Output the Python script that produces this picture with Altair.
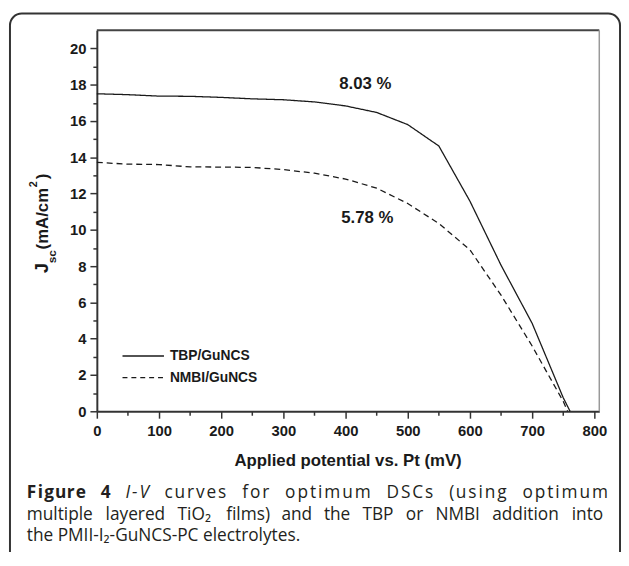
import altair as alt
import pandas as pd

# ---- data ----
voltage_tbp = [0, 50, 100, 150, 200, 250, 300, 350, 400, 450, 500, 550, 600, 650, 700, 750, 761]
jsc_tbp = [17.5, 17.45, 17.37, 17.36, 17.3, 17.22, 17.17, 17.05, 16.83, 16.47, 15.8, 14.62, 11.58, 8.05, 4.85, 0.75, 0.0]
voltage_nmbi = [0, 50, 100, 150, 200, 250, 300, 350, 400, 450, 500, 550, 600, 650, 700, 750, 757]
jsc_nmbi = [13.72, 13.62, 13.6, 13.47, 13.46, 13.44, 13.32, 13.12, 12.8, 12.3, 11.45, 10.35, 8.9, 6.4, 3.6, 0.55, 0.0]
series_names = ["TBP/GuNCS", "NMBI/GuNCS"]
efficiency_labels = ["8.03 %", "5.78 %"]
x_tick_values = list(range(0, 801, 50))
y_tick_values = list(range(0, 21, 1))

df = pd.concat([
    pd.DataFrame({"V": voltage_tbp, "J": jsc_tbp, "series": series_names[0]}),
    pd.DataFrame({"V": voltage_nmbi, "J": jsc_nmbi, "series": series_names[1]}),
], ignore_index=True)

W, H = 509, 386
OX, OY = 98, 27  # page position of plot origin
AX_FONT = "Liberation Sans"
CAP_FONT = "Open Sans"
INK = "#1a1a1a"


def txt(s, x, y, size, font=AX_FONT, weight="bold", align="left", baseline="alphabetic",
        angle=0, style="normal", color=INK):
    return alt.Chart(alt.Data(values=[{}])).mark_text(
        text=s, font=font, fontSize=size, fontWeight=weight, fontStyle=style,
        align=align, baseline=baseline, angle=angle, color=color,
    ).encode(x=alt.value(x), y=alt.value(y))


major_x = "datum.value % 100 === 0"
major_y = "datum.value % 2 === 0"

x_axis = alt.Axis(
    values=x_tick_values, title=None, grid=False,
    labelExpr=f"{major_x} ? datum.label : ''",
    tickSize={"condition": {"test": major_x, "value": 7}, "value": 4},
    labelFont=AX_FONT, labelFontSize=15, labelFontWeight="bold", labelColor=INK,
    labelPadding=6, domainColor="#333", domainWidth=2, tickColor="#333", tickWidth=1.5,
    labelFlush=False,
)
y_axis = alt.Axis(
    values=y_tick_values, title=None, grid=False,
    labelExpr=f"{major_y} ? datum.label : ''",
    tickSize={"condition": {"test": major_y, "value": 7}, "value": 4},
    labelFont=AX_FONT, labelFontSize=15, labelFontWeight="bold", labelColor=INK,
    labelPadding=4, domainColor="#333", domainWidth=2, tickColor="#333", tickWidth=1.5,
    labelFlush=False,
)

lines = alt.Chart(df).mark_line(strokeWidth=1.3, color=INK).encode(
    x=alt.X("V:Q", scale=alt.Scale(domain=[0, 808], nice=False, zero=False), axis=x_axis),
    y=alt.Y("J:Q", scale=alt.Scale(domain=[0, 21], nice=False), axis=y_axis),
    strokeDash=alt.StrokeDash("series:N", scale=alt.Scale(domain=series_names, range=[[1, 0], [6, 4]]), legend=None),
    order="V:Q",
)

dummy = alt.Data(values=[{}])

# outer rounded frame
box = alt.Chart(dummy).mark_rect(
    fill="white", fillOpacity=0, stroke="#333", strokeWidth=2, cornerRadius=12
).encode(x=alt.value(10 - OX), x2=alt.value(628 - OX), y=alt.value(10 - OY), y2=alt.value(600 - OY))

# plot frame top and right
top_rule = alt.Chart(dummy).mark_rule(color="#444", strokeWidth=2).encode(
    x=alt.value(0), x2=alt.value(W), y=alt.value(0))
right_rule = alt.Chart(dummy).mark_rule(color="#999", strokeWidth=1.5).encode(
    x=alt.value(W), y=alt.value(0), y2=alt.value(H))

# legend
leg_solid = alt.Chart(dummy).mark_rule(color=INK, strokeWidth=1.3).encode(
    x=alt.value(26), x2=alt.value(68), y=alt.value(330))
leg_dash = alt.Chart(dummy).mark_rule(color=INK, strokeWidth=1.3, strokeDash=[5, 4]).encode(
    x=alt.value(26), x2=alt.value(68), y=alt.value(352))
leg_t1 = txt(series_names[0], 74, 330, 14, baseline="middle")
leg_t2 = txt(series_names[1], 74, 352, 14, baseline="middle")

# efficiency annotations
ann1 = txt(efficiency_labels[0], 272, 55, 17, align="center", baseline="middle")
ann2 = txt(efficiency_labels[1], 274, 190, 17, align="center", baseline="middle")

# axis titles
x_title = txt("Applied potential vs. Pt (mV)", W / 2, 436, 17, align="center", baseline="middle")
y_J = txt("J", -49, 246, 18, angle=270)
y_sc = txt("sc", -41, 236, 12, angle=270)
y_unit = txt("(mA/cm", -49, 222, 17, angle=270)
y_sup = txt("2", -61, 159, 11, angle=270)
y_close = txt(")", -49, 151, 17, angle=270)

# ---- caption ----
CS = 17.5
CC = "#231f20"
cap = []

# line 1 is justified with letter spacing: place glyph by glyph
em_w = {
    "normal": {"c": .476, "u": .614, "r": .408, "v": .501, "e": .561, "s": .477, "f": .339, "o": .604,
               "p": .613, "t": .353, "i": .253, "m": .930, "D": .722, "S": .547, "C": .633, "(": .275,
               "n": .614, "g": .548},
    "bold": {"F": .53, "i": .26, "g": .51, "u": .58, "r": .41, "e": .53, "4": .52},
    "italic": {"I": .26, "-": .322, "V": .53},
}
line1 = [("Figure", "bold"), ("4", "bold"), ("I-V", "italic"), ("curves", "normal"), ("for", "normal"),
         ("optimum", "normal"), ("DSCs", "normal"), ("(using", "normal"), ("optimum", "normal")]
L1_LEFT, L1_RIGHT, GAP = 27, 616, 16
natural = sum(em_w[st][ch] * CS for w, st in line1 for ch in w)
n_chars = sum(len(w) for w, _ in line1)
ls = (L1_RIGHT - L1_LEFT - natural - GAP * (len(line1) - 1)) / (n_chars - len(line1))
xp = L1_LEFT
for w, st in line1:
    for i, ch in enumerate(w):
        cap.append(txt(ch, xp - OX, 501 - OY, CS, font=CAP_FONT,
                       weight="bold" if st == "bold" else "normal",
                       style="italic" if st == "italic" else "normal", color=CC))
        xp += em_w[st][ch] * CS + (ls if i < len(w) - 1 else 0)
    xp += GAP

line2 = [("multiple", 27), ("layered", 106.8), ("TiO\u2082", 179.8), ("films)", 229), ("and", 285),
         ("the", 328), ("TBP", 367), ("or", 411), ("NMBI", 441), ("addition", 498.5)]
for w, px in line2:
    cap.append(txt(w, px - OX, 523 - OY, CS, font=CAP_FONT, weight="normal", color=CC))
cap.append(txt("into", 611 - OX, 523 - OY, CS, font=CAP_FONT, weight="normal", align="right", color=CC))
cap.append(txt("the PMII-I\u2082-GuNCS-PC electrolytes.", 27 - OX, 544 - OY, CS, font=CAP_FONT,
               weight="normal", color=CC))

chart = alt.layer(
    box, lines, top_rule, right_rule, leg_solid, leg_dash, leg_t1, leg_t2, ann1, ann2,
    x_title, y_J, y_sc, y_unit, y_sup, y_close, *cap
).properties(
    width=W, height=H,
    padding={"left": 90, "top": 19, "right": 22, "bottom": 139},
    autosize=alt.AutoSizeParams(type="none"),
    background="white",
).configure_view(stroke=None)

chart.save("out.html", embed_options={"renderer": "svg", "actions": False})
